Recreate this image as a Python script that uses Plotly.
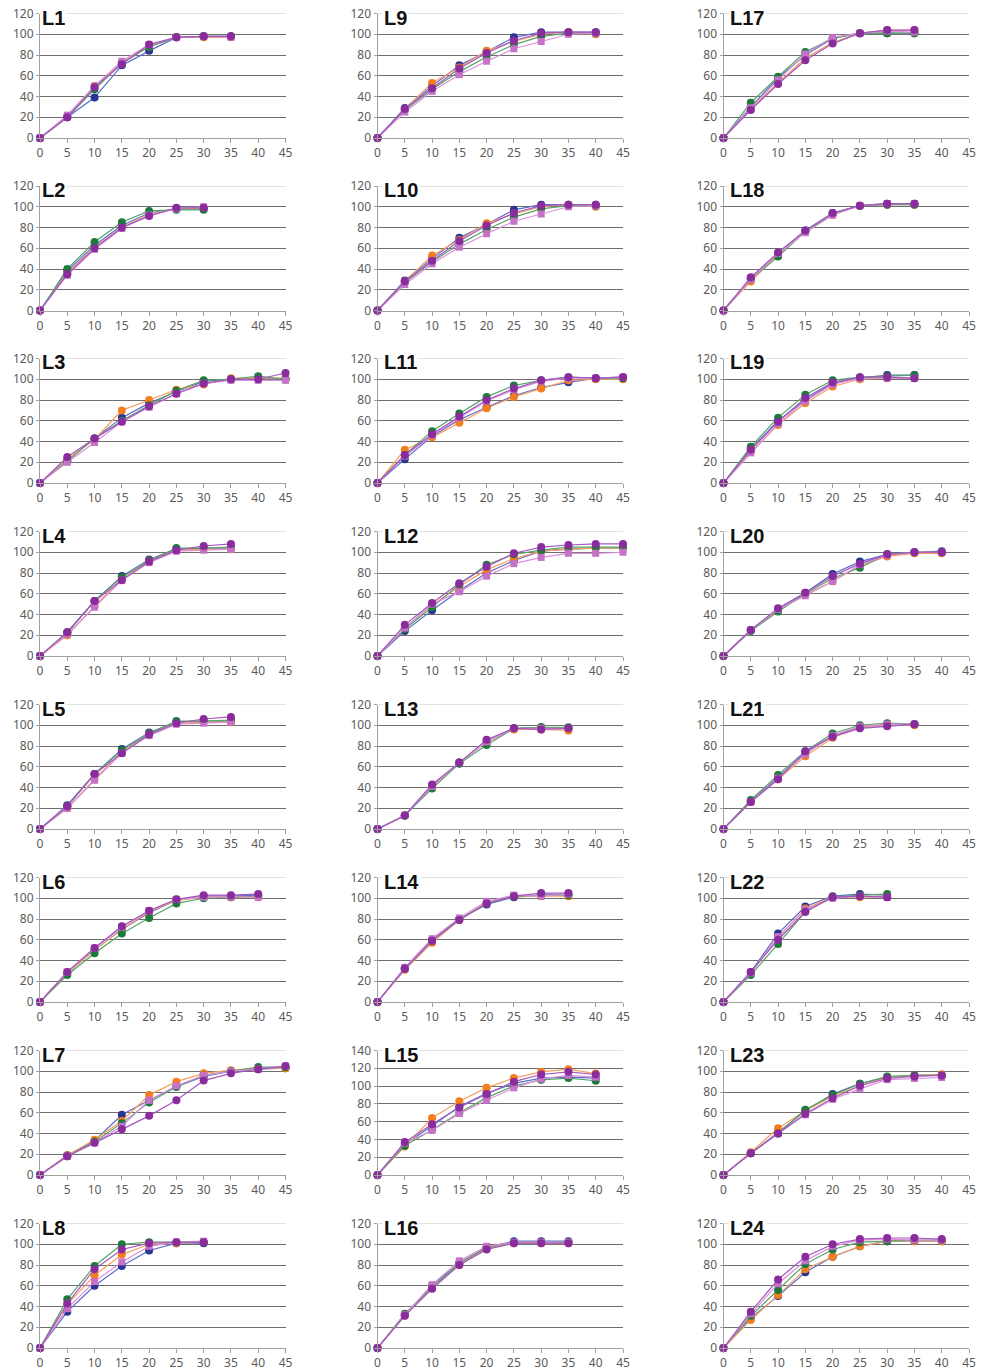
import plotly.graph_objects as go

# ---------------- data ----------------
PANEL_NAMES = ["L%d" % i for i in range(1, 25)]
X_VALUES = [0, 5, 10, 15, 20, 25, 30, 35, 40, 45]
X_TICKS = [0, 5, 10, 15, 20, 25, 30, 35, 40, 45]
Y_TICKS_120 = [0, 20, 40, 60, 80, 100, 120]
Y_TICKS_140 = [0, 20, 40, 60, 80, 100, 120, 140]
SERIES_NAMES = ["Series 1", "Series 2", "Series 3", "Series 4", "Series 5"]

# each panel: [blue, orange, green, pink, purple]
L1 = [[0, 20, 39, 70, 84, 97, 98, 98],
      [0, 21, 50, 73, 88, 97, 97, 97],
      [0, 20, 47, 72, 88, 97, 98, 98],
      [0, 22, 50, 74, 90, 97, 98, 97],
      [0, 20, 49, 71, 90, 97, 98, 98]]
L2 = [[0, 38, 63, 82, 94, 98, 98],
      [0, 36, 61, 80, 93, 98, 99],
      [0, 40, 66, 85, 96, 97, 97],
      [0, 34, 59, 79, 92, 98, 100],
      [0, 35, 60, 80, 91, 99, 99]]
L3 = [[0, 22, 43, 63, 77, 88, 98, 100, 101, 100],
      [0, 23, 42, 70, 80, 90, 95, 101, 101, 101],
      [0, 21, 43, 60, 75, 89, 99, 100, 103, 100],
      [0, 20, 39, 59, 73, 86, 96, 99, 99, 99],
      [0, 25, 43, 59, 74, 86, 96, 100, 100, 106]]
L4 = [[0, 23, 53, 77, 93, 103, 104, 104],
      [0, 20, 48, 75, 92, 102, 103, 103],
      [0, 22, 53, 76, 92, 104, 104, 105],
      [0, 21, 47, 73, 90, 101, 102, 103],
      [0, 23, 53, 73, 91, 102, 106, 108]]
L5 = [[0, 23, 53, 77, 93, 103, 104, 104],
      [0, 20, 48, 75, 92, 102, 103, 103],
      [0, 22, 53, 76, 92, 104, 104, 105],
      [0, 20, 47, 73, 90, 101, 102, 103],
      [0, 22, 53, 73, 91, 102, 106, 108]]
L6 = [[0, 28, 50, 70, 86, 98, 102, 102, 103],
      [0, 28, 50, 70, 87, 98, 101, 101, 101],
      [0, 26, 47, 66, 81, 95, 100, 101, 102],
      [0, 29, 52, 72, 88, 99, 101, 101, 101],
      [0, 29, 52, 73, 88, 99, 103, 103, 104]]
L7 = [[0, 19, 33, 58, 72, 85, 95, 100, 102, 103],
      [0, 19, 34, 52, 77, 90, 98, 101, 103, 103],
      [0, 18, 32, 50, 70, 85, 96, 100, 104, 104],
      [0, 18, 31, 47, 72, 86, 96, 100, 102, 105],
      [0, 18, 31, 44, 57, 72, 91, 98, 102, 105]]
L8 = [[0, 35, 60, 79, 94, 101, 101],
      [0, 42, 70, 90, 100, 101, 102],
      [0, 47, 79, 100, 102, 102, 102],
      [0, 38, 64, 83, 98, 102, 103],
      [0, 43, 76, 95, 101, 102, 102]]
L9 = [[0, 29, 50, 70, 83, 97, 102, 102, 102],
      [0, 28, 53, 68, 84, 93, 100, 102, 100],
      [0, 27, 47, 64, 78, 90, 98, 101, 101],
      [0, 25, 45, 61, 74, 86, 93, 100, 101],
      [0, 28, 48, 67, 82, 94, 101, 102, 102]]
L10 = [[0, 29, 50, 70, 83, 97, 102, 102, 102],
       [0, 28, 53, 68, 84, 93, 100, 102, 100],
       [0, 27, 47, 64, 78, 90, 98, 101, 101],
       [0, 25, 45, 61, 74, 86, 93, 100, 101],
       [0, 28, 48, 67, 82, 94, 101, 102, 102]]
L11 = [[0, 23, 45, 61, 73, 84, 92, 97, 101, 102],
       [0, 32, 44, 58, 72, 83, 91, 99, 100, 100],
       [0, 27, 50, 67, 83, 94, 99, 102, 101, 101],
       [0, 26, 46, 63, 79, 90, 98, 101, 101, 102],
       [0, 27, 47, 64, 80, 91, 99, 102, 101, 102]]
L12 = [[0, 24, 44, 63, 80, 92, 101, 103, 104, 104],
       [0, 27, 49, 67, 83, 94, 101, 103, 104, 104],
       [0, 26, 47, 69, 88, 98, 102, 105, 105, 105],
       [0, 27, 50, 62, 77, 89, 95, 99, 99, 100],
       [0, 30, 51, 70, 86, 99, 105, 107, 108, 108]]
L13 = [[0, 13, 42, 64, 84, 97, 98, 97],
       [0, 13, 41, 64, 84, 96, 96, 95],
       [0, 13, 39, 63, 81, 97, 98, 98],
       [0, 13, 41, 64, 84, 97, 97, 97],
       [0, 13, 43, 64, 86, 97, 96, 97]]
L14 = [[0, 33, 60, 80, 94, 101, 103, 104],
       [0, 31, 57, 79, 96, 102, 102, 102],
       [0, 32, 59, 80, 95, 102, 103, 103],
       [0, 33, 61, 81, 97, 103, 102, 104],
       [0, 32, 59, 79, 95, 102, 105, 105]]
L15 = [[0, 35, 55, 77, 92, 103, 109, 110, 109],
       [0, 32, 64, 83, 98, 109, 116, 119, 114],
       [0, 33, 51, 70, 87, 100, 107, 109, 106],
       [0, 36, 50, 69, 84, 98, 108, 112, 110],
       [0, 37, 57, 76, 91, 105, 113, 116, 113]]
L16 = [[0, 32, 60, 82, 97, 103, 103, 103],
       [0, 31, 59, 80, 96, 101, 101, 101],
       [0, 33, 58, 82, 97, 102, 102, 102],
       [0, 32, 61, 84, 98, 102, 102, 102],
       [0, 31, 57, 80, 95, 101, 101, 101]]
L17 = [[0, 30, 58, 80, 96, 101, 101, 101],
       [0, 28, 53, 77, 92, 101, 104, 104],
       [0, 34, 59, 83, 96, 101, 101, 101],
       [0, 29, 56, 81, 97, 101, 103, 102],
       [0, 27, 52, 75, 91, 101, 104, 104]]
L18 = [[0, 31, 55, 77, 94, 101, 103, 103],
       [0, 28, 54, 76, 92, 101, 102, 102],
       [0, 30, 52, 76, 93, 101, 102, 102],
       [0, 30, 55, 75, 92, 101, 103, 103],
       [0, 32, 56, 77, 94, 101, 103, 103]]
L19 = [[0, 33, 60, 80, 96, 101, 104, 104],
       [0, 30, 56, 77, 93, 100, 101, 101],
       [0, 35, 63, 85, 99, 102, 103, 104],
       [0, 29, 57, 79, 95, 101, 101, 101],
       [0, 32, 59, 82, 97, 102, 102, 101]]
L20 = [[0, 25, 45, 61, 79, 91, 98, 100, 101],
       [0, 25, 44, 59, 72, 87, 96, 99, 99],
       [0, 24, 43, 60, 75, 85, 98, 100, 100],
       [0, 25, 45, 58, 72, 88, 97, 100, 100],
       [0, 25, 46, 61, 77, 89, 98, 100, 100]]
L21 = [[0, 27, 50, 73, 90, 98, 100, 101],
       [0, 26, 48, 70, 88, 98, 100, 100],
       [0, 28, 52, 75, 92, 100, 102, 101],
       [0, 26, 49, 72, 90, 99, 101, 101],
       [0, 26, 48, 75, 89, 97, 99, 101]]
L22 = [[0, 29, 66, 92, 102, 104, 103],
       [0, 28, 62, 90, 101, 101, 101],
       [0, 26, 56, 87, 101, 103, 104],
       [0, 28, 63, 89, 100, 102, 101],
       [0, 29, 60, 87, 101, 102, 101]]
L23 = [[0, 21, 41, 62, 78, 88, 94, 96, 96],
       [0, 22, 45, 62, 76, 86, 94, 96, 97],
       [0, 21, 40, 63, 77, 88, 95, 96, 96],
       [0, 21, 40, 58, 73, 83, 92, 93, 94],
       [0, 21, 40, 59, 74, 86, 93, 95, 96]]
L24 = [[0, 29, 50, 73, 88, 98, 103, 103, 103],
       [0, 27, 51, 76, 88, 98, 103, 103, 103],
       [0, 31, 56, 81, 95, 102, 103, 104, 104],
       [0, 33, 62, 84, 98, 104, 105, 104, 104],
       [0, 35, 66, 88, 100, 105, 106, 106, 105]]

PANELS = [L1, L2, L3, L4, L5, L6, L7, L8,
          L9, L10, L11, L12, L13, L14, L15, L16,
          L17, L18, L19, L20, L21, L22, L23, L24]
Y_MAX = {"L15": 140}

# ---------------- styling ----------------
W, H = 984, 1372
COL_X0 = [40, 377.5, 723.5]          # page px of x=0
PLOT_W = 245.5
ROW_Y0 = [138, 310.5, 483, 656, 829, 1002, 1175, 1348]   # page px of y=0
PLOT_H = 124.5

SERIES_STYLE = [
    dict(line="#5A6CCB", marker="#283593", symbol="circle", size=8),
    dict(line="#F7A05E", marker="#F47D20", symbol="circle", size=8),
    dict(line="#55A464", marker="#1E7A3B", symbol="circle", size=8),
    dict(line="#DC8EDC", marker="#C572C8", symbol="square", size=7),
    dict(line="#A557C2", marker="#8A2C9E", symbol="circle", size=8),
]
GRID = "#6e6e6e"
AXIS = "#a0a0a0"
TICKFONT = dict(family="Noto Sans, DejaVu Sans, sans-serif", size=12, color="#5a5a5a")

fig = go.Figure()
layout = dict(width=W, height=H, margin=dict(l=0, r=0, t=0, b=0, autoexpand=False),
              paper_bgcolor="white", plot_bgcolor="white", showlegend=False)
annotations = []
shapes = []

for i, (name, panel) in enumerate(zip(PANEL_NAMES, PANELS)):
    col, row = divmod(i, 8)
    n = i + 1
    xs = "" if n == 1 else str(n)
    ymax = Y_MAX.get(name, 120)
    yt = Y_TICKS_140 if ymax == 140 else Y_TICKS_120
    x0 = COL_X0[col]
    y0 = ROW_Y0[row]
    layout["xaxis" + xs] = dict(
        domain=[x0 / W, (x0 + PLOT_W) / W], anchor="y" + xs, automargin=False,
        range=[0, 45], tickvals=X_TICKS, showgrid=False, zeroline=False,
        showline=True, linecolor=AXIS, linewidth=1, ticklabeloverflow="allow",
        ticks="outside", ticklen=4, tickcolor=AXIS, tickfont=TICKFONT, fixedrange=True)
    layout["yaxis" + xs] = dict(
        domain=[1 - y0 / H, 1 - (y0 - PLOT_H) / H], anchor="x" + xs, automargin=False,
        range=[0, ymax], tickvals=yt, showgrid=True, gridcolor=GRID, gridwidth=1,
        zeroline=False, showline=True, linecolor=AXIS, linewidth=1,
        ticklabeloverflow="allow",
        ticks="outside", ticklen=3, tickcolor=AXIS, tickfont=TICKFONT, fixedrange=True)
    # lighter top gridline
    shapes.append(dict(type="line", xref="x%s domain" % xs, yref="y" + xs,
                       x0=0, x1=1, y0=ymax, y1=ymax,
                       line=dict(color="#c4c4c4", width=1), layer="above"))
    for s, vals in enumerate(panel):
        st = SERIES_STYLE[s]
        fig.add_trace(go.Scatter(
            x=X_VALUES[:len(vals)], y=vals, name=SERIES_NAMES[s],
            xaxis="x" + xs, yaxis="y" + xs, mode="lines+markers",
            line=dict(color=st["line"], width=1.2),
            marker=dict(color=st["marker"], symbol=st["symbol"], size=st["size"]),
            cliponaxis=False, hoverinfo="skip"))
    annotations.append(dict(
        text="<b>%s</b>" % name, xref="x%s domain" % xs, yref="y%s domain" % xs,
        x=0, y=1, xanchor="left", yanchor="middle",
        xshift=(0 if col == 0 else 4), yshift=-4, showarrow=False,
        height=18, bgcolor="white", borderpad=1,
        font=dict(family="Liberation Sans, Arial, sans-serif", size=20, color="#111111")))

layout["annotations"] = annotations
layout["shapes"] = shapes
fig.update_layout(**layout)
# remove the default 8px page margin so the 984x1372 figure fills the window exactly
fig.write_html("out.html", config={"displayModeBar": False},
               post_script="document.body.style.margin='0px';")
